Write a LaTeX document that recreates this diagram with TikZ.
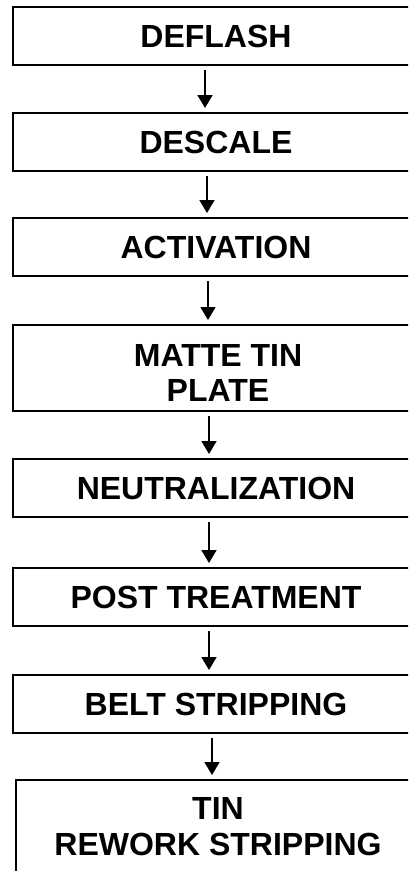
\documentclass[tikz,border=0pt]{standalone}
\usepackage{fontspec}
\setmainfont{Liberation Sans}
\usetikzlibrary{arrows.meta}

\tikzset{
  stagefont/.style={font=\fontsize{32}{35.5}\selectfont\bfseries},
  stage/.style={draw=black, line width=2pt, rectangle, inner sep=0pt, outer sep=0pt,
    minimum width=406pt, minimum height=58pt, align=center, stagefont},
  flow/.style={draw=black, line width=1.6pt, shorten <=5pt, shorten >=5pt,
    -{Triangle[width=15pt,length=13pt]}}
}

\begin{document}
\begin{tikzpicture}[x=1pt,y=-1pt]
  \useasboundingbox (0,0) rectangle (408,871);
  \clip (0,0) rectangle (408,871);

  % process stages, top to bottom
  \node[stage] (deflash)  at (216,36)  {DEFLASH};
  \node[stage] (descale)  at (216,142) {DESCALE};
  \node[stage] (activ)    at (216,247) {ACTIVATION};
  \node[stage, minimum height=86pt,
        label={[stagefont, align=center, inner sep=0pt, yshift=-5pt, xshift=2pt]center:MATTE TIN\\PLATE}]
        (matte) at (216,368) {};
  \node[stage] (neutral)  at (216,488) {NEUTRALIZATION};
  \node[stage] (post)     at (216,597) {POST TREATMENT};
  \node[stage] (belt)     at (216,704) {BELT STRIPPING};
  \node[stage, minimum width=404pt, minimum height=93pt] (rework) at (218,826.5) {TIN\\REWORK STRIPPING};

  % arrow columns
  \coordinate (c1) at (205,0);
  \coordinate (c2) at (207,0);
  \coordinate (c3) at (208,0);
  \coordinate (c4) at (209,0);
  \coordinate (c5) at (209,0);
  \coordinate (c6) at (209,0);
  \coordinate (c7) at (212,0);

  \draw[flow] (deflash.south -| c1) -- (descale.north -| c1);
  \draw[flow] (descale.south -| c2) -- (activ.north -| c2);
  \draw[flow] (activ.south -| c3)   -- (matte.north -| c3);
  \draw[flow] (matte.south -| c4)   -- (neutral.north -| c4);
  \draw[flow] (neutral.south -| c5) -- (post.north -| c5);
  \draw[flow] (post.south -| c6)    -- (belt.north -| c6);
  \draw[flow] (belt.south -| c7)    -- (rework.north -| c7);
\end{tikzpicture}
\end{document}
